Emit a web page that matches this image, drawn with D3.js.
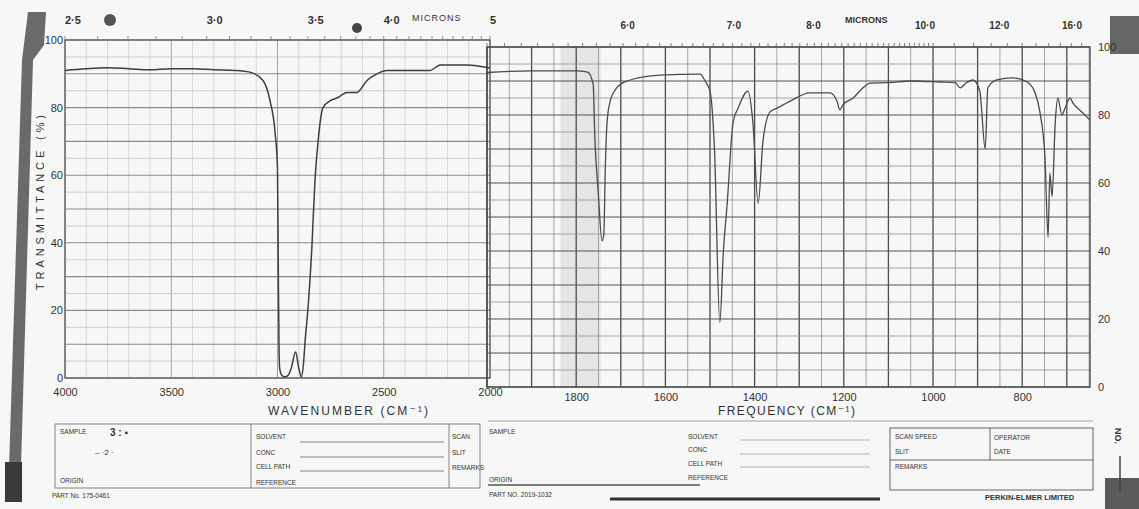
<!DOCTYPE html>
<html><head><meta charset="utf-8">
<script src="https://cdn.jsdelivr.net/npm/d3@7"></script>
<style>
body{margin:0;background:#fff;}
svg{display:block;}
text{font-family:"Liberation Sans","DejaVu Sans",sans-serif;fill:#333;}
</style>
</head><body>
<svg id="c" width="1139" height="509"></svg>
<script>
// ---------- data ----------
const leftWavenumbers = [4000,3900,3800,3700,3600,3500,3400,3300,3200,3130,3068,3035,3012,3000,2996,2993,2990,2980,2965,2950,2935,2915,2900,2888,2878,2870,2856,2838,2824,2809,2786,2753,2715,2673,2626,2579,2532,2485,2400,2282,2235,2108,2000];
const leftTransmittance = [91,91.5,91.8,91.5,91.2,91.5,91.5,91.2,91,90.5,88,82,73,62,30,10,3,0.8,0.3,0.8,3,7.7,3,0.3,4,11,21,39,58,70,80,82,83,84.5,84.5,88,90,91,91,91,92.6,92.6,91.7];
const rightWavenumbers = [2000,1900,1800,1774,1762,1758,1751,1742,1738,1735,1731,1724,1709,1686,1612,1522,1511,1500,1490,1478,1470,1462,1448,1437,1415,1404,1392,1381,1365,1350,1321,1276,1231,1215,1209,1202,1179,1157,1141,1100,1050,984,950,939,925,910,895,883,877,857,821,789,771,760,749,742,738,733,726,720,711,704,693,686,664,648];
const rightTransmittance = [92.5,93,93,92.6,89,72.6,58,43,45,63,77.6,84,88,90,91.7,92,90,87,70,19,40,53,78,82,87,78,54,72.6,81,82,84,86.5,86.5,84,81.5,83,85,88,89.4,89.5,90,89.7,89.5,88,89.5,90.3,87,70,88,90.3,90.9,89.7,86.5,80.6,67.6,44,63,56,77.6,85,80,82,85,83.5,80.6,78.5];

const leftXTicks = [4000,3500,3000,2500,2000];
const leftXTickLabels = ["4000","3500","3000","2500","2000"];
const rightXTicks = [1800,1600,1400,1200,1000,800];
const yTicks = [0,20,40,60,80,100];
const leftMicrons = [2.5,3.0,3.5,4.0,5.0];
const leftMicronLabels = ["2·5","3·0","3·5","4·0","5"];
const rightMicrons = [6,7,8,10,12,16];
const rightMicronLabels = ["6·0","7·0","8·0","10·0","12·0","16·0"];

// ---------- scales ----------
const xL = d3.scaleLinear().domain([4000,2000]).range([65,490]);
const yL = d3.scaleLinear().domain([0,100]).range([378,40]);
const xR = d3.scaleLinear().domain([2000,648]).range([487,1090]);
const yR = d3.scaleLinear().domain([0,100]).range([387,47]);

const svg = d3.select('#c');
svg.append('rect').attr('width',1139).attr('height',509).attr('fill','#f7f7f7');

// paper artefacts (binding strip, corners)
svg.append('path').attr('d','M28,12 L46,12 L44,45 L33,60 L20,500 L8,500 L22,60 Z').attr('fill','#6a6a6a');
svg.append('rect').attr('x',5).attr('y',462).attr('width',17).attr('height',40).attr('fill','#3a3a3a');
svg.append('rect').attr('x',1110).attr('y',16).attr('width',29).attr('height',38).attr('fill','#666');
svg.append('rect').attr('x',1105).attr('y',478).attr('width',34).attr('height',31).attr('fill','#5a5a5a');
svg.append('circle').attr('cx',110).attr('cy',20).attr('r',6).attr('fill','#555');
svg.append('circle').attr('cx',357).attr('cy',28).attr('r',5).attr('fill','#444');

// ---------- left panel grid ----------
const gLeft = svg.append('g');
gLeft.selectAll('line.v').data(d3.range(2000,4001,100)).join('line')
  .attr('x1',d=>xL(d)).attr('x2',d=>xL(d)).attr('y1',yL(100)).attr('y2',yL(0))
  .attr('stroke',d=>d%500===0?'#a0a0a0':'#cfcfcf').attr('stroke-width',d=>d%500===0?1:0.8);
gLeft.selectAll('line.h').data(d3.range(0,101,5)).join('line')
  .attr('x1',xL(4000)).attr('x2',xL(2000)).attr('y1',d=>yL(d)).attr('y2',d=>yL(d))
  .attr('stroke',d=>d%10===0?'#8a8a8a':'#c4c4c4').attr('stroke-width',d=>d%10===0?1.1:0.8);
gLeft.append('rect').attr('x',xL(4000)).attr('y',yL(100)).attr('width',xL(2000)-xL(4000)).attr('height',yL(0)-yL(100))
  .attr('fill','none').attr('stroke','#555').attr('stroke-width',1.2);

// micron ticks left
const lMicTicks = d3.range(25,51,1).map(d=>d/10);
gLeft.selectAll('line.m').data(lMicTicks).join('line')
  .attr('x1',d=>xL(1e4/d)).attr('x2',d=>xL(1e4/d)).attr('y1',yL(100)).attr('y2',yL(100)-4)
  .attr('stroke','#777').attr('stroke-width',0.8);

// ---------- right panel grid ----------
const gRight = svg.append('g');
gRight.append('rect').attr('x',xR(1835)).attr('y',yR(100)).attr('width',xR(1745)-xR(1835)).attr('height',yR(0)-yR(100))
  .attr('fill','#000').attr('opacity',0.07);
gRight.selectAll('line.v').data(d3.range(650,2001,50)).join('line')
  .attr('x1',d=>xR(d)).attr('x2',d=>xR(d)).attr('y1',yR(100)).attr('y2',yR(0))
  .attr('stroke',d=>d%100===0?'#4a4a4a':'#909090').attr('stroke-width',d=>d%100===0?1.3:0.8);
gRight.selectAll('line.h').data(d3.range(0,101,5)).join('line')
  .attr('x1',xR(2000)).attr('x2',xR(648)).attr('y1',d=>yR(d)).attr('y2',d=>yR(d))
  .attr('stroke',d=>d%10===0?'#555':'#909090').attr('stroke-width',d=>d%10===0?1.1:0.8);
gRight.append('rect').attr('x',xR(2000)).attr('y',yR(100)).attr('width',xR(648)-xR(2000)).attr('height',yR(0)-yR(100))
  .attr('fill','none').attr('stroke','#444').attr('stroke-width',1.3);
const rMicTicks = d3.range(50,100,1).map(d=>d/10).concat(d3.range(100,155,5).map(d=>d/10));
gRight.selectAll('line.m').data(rMicTicks.filter(d=>1e4/d>=648)).join('line')
  .attr('x1',d=>xR(1e4/d)).attr('x2',d=>xR(1e4/d)).attr('y1',yR(100)).attr('y2',yR(100)-4)
  .attr('stroke','#666').attr('stroke-width',0.8);

// ---------- spectra ----------
const leftData = leftWavenumbers.map((v,i)=>[v,leftTransmittance[i]]);
const rightData = rightWavenumbers.map((v,i)=>[v,rightTransmittance[i]]);
svg.append('path').datum(leftData)
  .attr('d',d3.line().x(d=>xL(d[0])).y(d=>yL(d[1])).curve(d3.curveMonotoneX))
  .attr('fill','none').attr('stroke','#3e3e3e').attr('stroke-width',1.5);
svg.append('path').datum(rightData)
  .attr('d',d3.line().x(d=>xR(d[0])).y(d=>yR(d[1])).curve(d3.curveMonotoneX))
  .attr('fill','none').attr('stroke','#4a4a4a').attr('stroke-width',1.3);

// ---------- axes ----------
function styleAxis(g,size){
  g.select('.domain').remove();
  g.selectAll('.tick line').remove();
  g.selectAll('text').attr('font-size',size).attr('fill','#333')
    .attr('font-family','"Liberation Sans","DejaVu Sans",sans-serif');
}
svg.append('g').attr('transform',`translate(0,${yL(0)})`)
  .call(d3.axisBottom(xL).tickValues(leftXTicks).tickFormat((d,i)=>leftXTickLabels[i]).tickSize(0).tickPadding(10))
  .call(g=>styleAxis(g,11));
svg.append('g').attr('transform',`translate(0,${yR(0)})`)
  .call(d3.axisBottom(xR).tickValues(rightXTicks).tickFormat(d3.format('d')).tickSize(0).tickPadding(6))
  .call(g=>styleAxis(g,11));
svg.append('g').attr('transform',`translate(${xL(4000)},0)`)
  .call(d3.axisLeft(yL).tickValues(yTicks).tickSize(0).tickPadding(2))
  .call(g=>styleAxis(g,11));
svg.append('g').attr('transform',`translate(${xR(648)},0)`)
  .call(d3.axisRight(yR).tickValues(yTicks).tickSize(0).tickPadding(8))
  .call(g=>styleAxis(g,11));

// micron labels
svg.selectAll('text.ml').data(leftMicrons).join('text')
  .attr('x',d=>xL(1e4/d)).attr('y',24).attr('font-size',11).attr('font-weight','bold')
  .attr('fill','#333').text((d,i)=>leftMicronLabels[i]);
svg.append('text').attr('x',412).attr('y',21).attr('font-size',9).attr('fill','#bbb')
  .attr('letter-spacing',1).text('MICRONS');
svg.selectAll('text.mr').data(rightMicrons).join('text')
  .attr('x',d=>Math.min(xR(1e4/d), xR.range()[1]-10)-8).attr('y',29)
  .attr('text-anchor','middle').attr('font-size',10).attr('font-weight','bold')
  .attr('fill','#333').text((d,i)=>rightMicronLabels[i]);
svg.append('text').attr('x',845).attr('y',23).attr('font-size',9).attr('font-weight','bold')
  .attr('fill','#333').text('MICRONS');

// titles
svg.append('text').attr('transform','translate(44,290) rotate(-90)')
  .attr('font-size',11).attr('textLength',175).attr('lengthAdjust','spacing')
  .attr('fill','#333').text('TRANSMITTANCE (%)');
svg.append('text').attr('x',268).attr('y',415).attr('font-size',12)
  .attr('textLength',160).attr('lengthAdjust','spacing').attr('fill','#444').text('WAVENUMBER (CM⁻¹)');
svg.append('text').attr('x',718).attr('y',415).attr('font-size',12)
  .attr('textLength',137).attr('lengthAdjust','spacing').attr('fill','#444').text('FREQUENCY (CM⁻¹)');

// ---------- record form ----------
const form = svg.append('g').attr('stroke','#777').attr('fill','none').attr('stroke-width',0.9);
form.append('rect').attr('x',55).attr('y',424).attr('width',425).attr('height',64);
form.append('line').attr('x1',251).attr('x2',251).attr('y1',424).attr('y2',488);
form.append('line').attr('x1',449).attr('x2',449).attr('y1',424).attr('y2',488);
[442,457,471].forEach(y=>form.append('line').attr('x1',300).attr('x2',444).attr('y1',y).attr('y2',y));
form.append('line').attr('x1',488).attr('x2',1093).attr('y1',421).attr('y2',421).attr('stroke','#999');
form.append('line').attr('x1',488).attr('x2',700).attr('y1',485).attr('y2',485).attr('stroke','#555').attr('stroke-width',1.5);
form.append('line').attr('x1',610).attr('x2',880).attr('y1',499).attr('y2',499).attr('stroke','#333').attr('stroke-width',3);
[440,454,467].forEach(y=>form.append('line').attr('x1',740).attr('x2',870).attr('y1',y).attr('y2',y).attr('stroke','#aaa'));
form.append('rect').attr('x',890).attr('y',428).attr('width',203).attr('height',62).attr('stroke','#555');
form.append('line').attr('x1',990).attr('x2',990).attr('y1',428).attr('y2',460).attr('stroke','#555');
form.append('line').attr('x1',890).attr('x2',1093).attr('y1',460).attr('y2',460).attr('stroke','#555');
form.append('line').attr('x1',1120).attr('x2',1120).attr('y1',456).attr('y2',492).attr('stroke','#444').attr('stroke-width',1.5);

const formLabels = [
  ['SAMPLE',60,434],['ORIGIN',60,483],['PART No. 175-0461',52,498],
  ['SOLVENT',256,439],['CONC',256,455],['CELL PATH',256,469],['REFERENCE',256,485],
  ['SCAN',452,439],['SLIT',452,455],['REMARKS',452,470],
  ['SAMPLE',489,434],['ORIGIN',489,482],['PART NO. 2019-1032',489,497],
  ['SOLVENT',688,439],['CONC',688,452],['CELL PATH',688,466],['REFERENCE',688,480],
  ['SCAN SPEED',895,439],['SLIT',895,454],['OPERATOR',994,440],['DATE',994,454],['REMARKS',895,469]
];
svg.selectAll('text.fl').data(formLabels).join('text')
  .attr('x',d=>d[1]).attr('y',d=>d[2]).attr('font-size',6.5).attr('fill','#444').text(d=>d[0]);
svg.append('text').attr('x',985).attr('y',500).attr('font-size',7.5).attr('font-weight','bold')
  .attr('fill','#333').text('PERKIN-ELMER LIMITED');
svg.append('text').attr('transform','translate(1115,428) rotate(90)').attr('font-size',9)
  .attr('font-weight','bold').attr('fill','#333').text('NO.');
svg.append('text').attr('x',110).attr('y',436).attr('font-size',10).attr('font-weight','bold').attr('fill','#444').text('3 :  ▪');
svg.append('text').attr('x',95).attr('y',455).attr('font-size',8).attr('fill','#666').text('–      ·2 ·');
</script>
</body></html>
